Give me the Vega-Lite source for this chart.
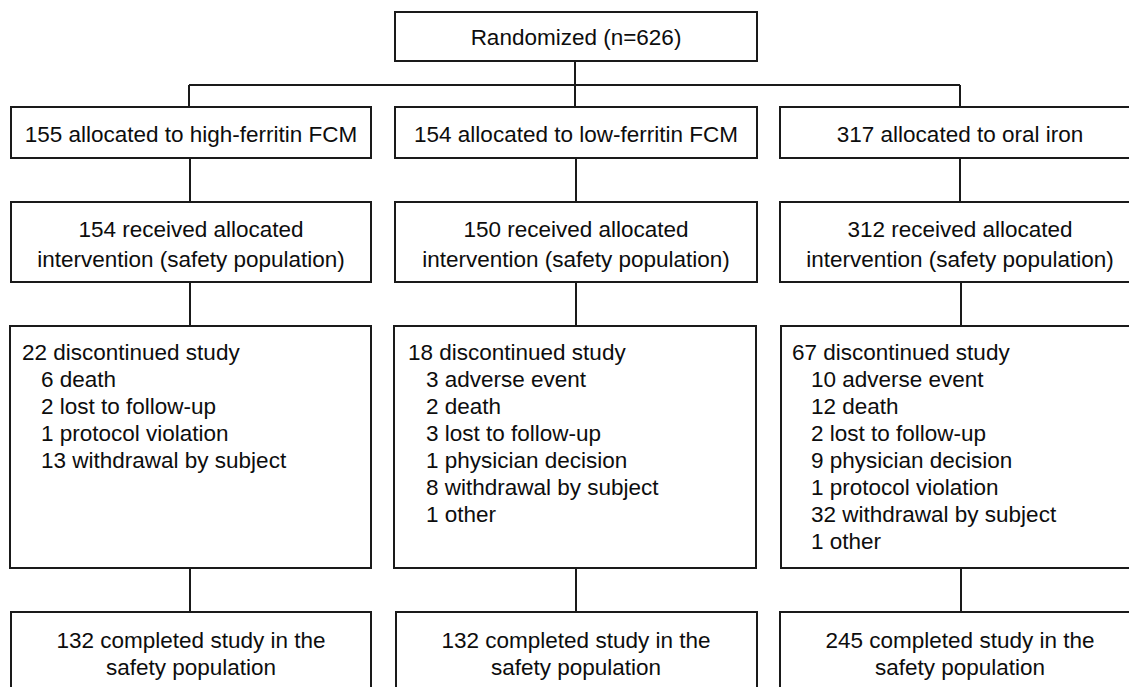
{
  "$schema": "https://vega.github.io/schema/vega-lite/v6.json",
  "width": 1129,
  "height": 687,
  "autosize": {"type": "fit", "contains": "padding"},
  "padding": 0,
  "background": "white",
  "config": {"view": {"stroke": null}},
  "datasets": {
    "boxes": [
      {"x": 395, "x2": 757, "y": 12, "y2": 61},
      {"x": 11, "x2": 371, "y": 107, "y2": 158},
      {"x": 395, "x2": 757, "y": 107, "y2": 158},
      {"x": 780, "x2": 1140, "y": 107, "y2": 158},
      {"x": 11, "x2": 371, "y": 202, "y2": 282},
      {"x": 395, "x2": 757, "y": 202, "y2": 282},
      {"x": 780, "x2": 1140, "y": 202, "y2": 282},
      {"x": 10, "x2": 371, "y": 326, "y2": 568},
      {"x": 394, "x2": 756, "y": 326, "y2": 568},
      {"x": 781, "x2": 1140, "y": 326, "y2": 568},
      {"x": 11, "x2": 371, "y": 612, "y2": 700},
      {"x": 396, "x2": 757, "y": 612, "y2": 700},
      {"x": 780, "x2": 1140, "y": 612, "y2": 700}
    ],
    "lines": [
      {"x": 575, "x2": 575, "y": 61, "y2": 85},
      {"x": 189, "x2": 960, "y": 85, "y2": 85},
      {"x": 189, "x2": 189, "y": 85, "y2": 107},
      {"x": 575, "x2": 575, "y": 85, "y2": 107},
      {"x": 960, "x2": 960, "y": 85, "y2": 107},
      {"x": 190, "x2": 190, "y": 158, "y2": 202},
      {"x": 576, "x2": 576, "y": 158, "y2": 202},
      {"x": 960, "x2": 960, "y": 158, "y2": 202},
      {"x": 190, "x2": 190, "y": 282, "y2": 326},
      {"x": 576, "x2": 576, "y": 282, "y2": 326},
      {"x": 961, "x2": 961, "y": 282, "y2": 326},
      {"x": 190, "x2": 190, "y": 568, "y2": 612},
      {"x": 576, "x2": 576, "y": 568, "y2": 612},
      {"x": 961, "x2": 961, "y": 568, "y2": 612}
    ],
    "centered": [
      {"x": 576, "y": 38, "label": "Randomized (n=626)"},
      {"x": 191, "y": 135, "label": "155 allocated to high-ferritin FCM"},
      {"x": 576, "y": 135, "label": "154 allocated to low-ferritin FCM"},
      {"x": 960, "y": 135, "label": "317 allocated to oral iron"},
      {"x": 191, "y": 230, "label": "154 received allocated"},
      {"x": 191, "y": 260, "label": "intervention (safety population)"},
      {"x": 576, "y": 230, "label": "150 received allocated"},
      {"x": 576, "y": 260, "label": "intervention (safety population)"},
      {"x": 960, "y": 230, "label": "312 received allocated"},
      {"x": 960, "y": 260, "label": "intervention (safety population)"},
      {"x": 191, "y": 641, "label": "132 completed study in the"},
      {"x": 191, "y": 668, "label": "safety population"},
      {"x": 576, "y": 641, "label": "132 completed study in the"},
      {"x": 576, "y": 668, "label": "safety population"},
      {"x": 960, "y": 641, "label": "245 completed study in the"},
      {"x": 960, "y": 668, "label": "safety population"}
    ],
    "lefts": [
      {"x": 22, "y": 353, "label": "22 discontinued study"},
      {"x": 41, "y": 380, "label": "6 death"},
      {"x": 41, "y": 407, "label": "2 lost to follow-up"},
      {"x": 41, "y": 434, "label": "1 protocol violation"},
      {"x": 41, "y": 461, "label": "13 withdrawal by subject"},
      {"x": 408, "y": 353, "label": "18 discontinued study"},
      {"x": 426, "y": 380, "label": "3 adverse event"},
      {"x": 426, "y": 407, "label": "2 death"},
      {"x": 426, "y": 434, "label": "3 lost to follow-up"},
      {"x": 426, "y": 461, "label": "1 physician decision"},
      {"x": 426, "y": 488, "label": "8 withdrawal by subject"},
      {"x": 426, "y": 515, "label": "1 other"},
      {"x": 792, "y": 353, "label": "67 discontinued study"},
      {"x": 811, "y": 380, "label": "10 adverse event"},
      {"x": 811, "y": 407, "label": "12 death"},
      {"x": 811, "y": 434, "label": "2 lost to follow-up"},
      {"x": 811, "y": 461, "label": "9 physician decision"},
      {"x": 811, "y": 488, "label": "1 protocol violation"},
      {"x": 811, "y": 515, "label": "32 withdrawal by subject"},
      {"x": 811, "y": 542, "label": "1 other"}
    ]
  },
  "layer": [
    {
      "data": {"name": "boxes"},
      "mark": {"type": "rect", "fill": "white", "stroke": "#1a1a1a", "strokeWidth": 2, "clip": true},
      "encoding": {
        "x": {"field": "x", "type": "quantitative", "scale": {"domain": [0, 1129], "nice": false, "zero": false}, "axis": null},
        "x2": {"field": "x2"},
        "y": {"field": "y", "type": "quantitative", "scale": {"domain": [0, 687], "nice": false, "zero": false, "reverse": true}, "axis": null},
        "y2": {"field": "y2"}
      }
    },
    {
      "data": {"name": "lines"},
      "mark": {"type": "rule", "stroke": "#1a1a1a", "strokeWidth": 2},
      "encoding": {
        "x": {"field": "x", "type": "quantitative", "axis": null},
        "x2": {"field": "x2"},
        "y": {"field": "y", "type": "quantitative", "axis": null},
        "y2": {"field": "y2"}
      }
    },
    {
      "data": {"name": "centered"},
      "mark": {"type": "text", "align": "center", "baseline": "middle", "font": "Liberation Sans", "fontSize": 22.5, "color": "#0d0d0d"},
      "encoding": {
        "x": {"field": "x", "type": "quantitative", "axis": null},
        "y": {"field": "y", "type": "quantitative", "axis": null},
        "text": {"field": "label", "type": "nominal"}
      }
    },
    {
      "data": {"name": "lefts"},
      "mark": {"type": "text", "align": "left", "baseline": "middle", "font": "Liberation Sans", "fontSize": 22.5, "color": "#0d0d0d"},
      "encoding": {
        "x": {"field": "x", "type": "quantitative", "axis": null},
        "y": {"field": "y", "type": "quantitative", "axis": null},
        "text": {"field": "label", "type": "nominal"}
      }
    }
  ]
}
